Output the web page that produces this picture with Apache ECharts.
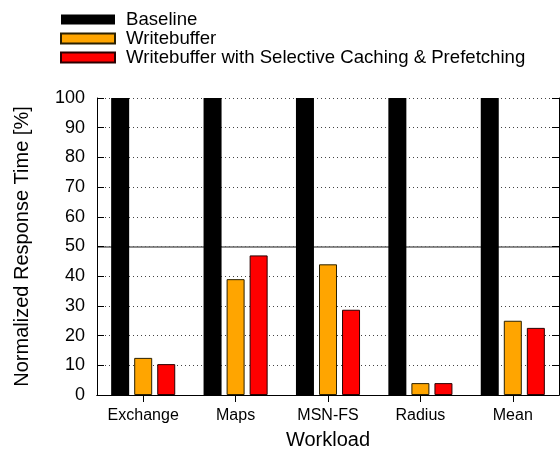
<!DOCTYPE html>
<html>
<head>
<meta charset="utf-8">
<script src="https://cdn.jsdelivr.net/npm/echarts@6/dist/echarts.min.js"></script>
<style>
  html, body { margin: 0; padding: 0; background: #fff; }
  #chart { width: 560px; height: 449px; }
</style>
</head>
<body>
<div id="chart"></div>
<script>
// Workloads on the x axis
const workloads = ['Exchange', 'Maps', 'MSN-FS', 'Radius', 'Mean'];
// Normalized response time [%] per configuration
const baseline = [100, 100, 100, 100, 100];
const writebuffer = [12.5, 39, 44, 4, 25];
const writebufferSCP = [10.4, 47, 28.7, 4, 22.6];
const seriesNames = ['Baseline', 'Writebuffer', 'Writebuffer with Selective Caching & Prefetching'];
const yTicks = [0, 10, 20, 30, 40, 50, 60, 70, 80, 90, 100];

const FONT = '"Liberation Sans", Arial, sans-serif';
const chart = echarts.init(document.getElementById('chart'), null, { renderer: 'canvas' });

// solid line only at 50 on the right-hand axis
const midLineColors = yTicks.map(v => v === 50 ? '#666' : 'rgba(0,0,0,0)');

const barStyle = (color, border) => ({
  color: color,
  borderColor: border,
  borderWidth: border ? 1 : 0
});

chart.setOption({
  animation: false,
  backgroundColor: '#fff',
  textStyle: { fontFamily: FONT, color: '#000' },
  legend: {
    orient: 'vertical',
    left: 60,
    top: 10,
    padding: 0,
    itemWidth: 54,
    itemHeight: 10,
    itemGap: 0,
    icon: 'rect',
    selectedMode: false,
    textStyle: { fontFamily: FONT, fontSize: 18.6, color: '#000', padding: [0, 0, 0, 6] },
    data: seriesNames
  },
  grid: { left: 97, top: 98, right: 1, bottom: 54, containLabel: false, outerBoundsMode: 'none' },
  xAxis: [
    {
      type: 'category',
      data: workloads,
      position: 'bottom',
      name: 'Workload',
      nameLocation: 'middle',
      nameGap: 35,
      nameTextStyle: { fontFamily: FONT, fontSize: 20, color: '#000' },
      axisLine: { show: true, lineStyle: { color: '#000', width: 1 } },
      axisTick: { show: false },
      axisLabel: { interval: 0, fontFamily: FONT, fontSize: 16, color: '#000', margin: 13 },
      splitLine: { show: false }
    },
    {
      type: 'category',
      data: workloads,
      position: 'top',
      axisLine: { show: true, lineStyle: { color: '#000', width: 1 } },
      axisTick: { show: true, interval: 0, inside: true, alignWithLabel: true, length: 7, lineStyle: { color: '#000' } },
      axisLabel: { show: false },
      splitLine: { show: false }
    }
  ],
  yAxis: [
    {
      type: 'value',
      min: 0,
      max: 100,
      interval: 10,
      position: 'left',
      name: 'Normalized Response Time [%]',
      nameLocation: 'middle',
      nameGap: 65,
      nameTextStyle: { fontFamily: FONT, fontSize: 20, color: '#000' },
      axisLine: { show: true, lineStyle: { color: '#000', width: 1 } },
      axisTick: { show: true, inside: true, length: 7, lineStyle: { color: '#000' } },
      axisLabel: { fontFamily: FONT, fontSize: 18, color: '#000', margin: 12 },
      splitLine: { show: true, lineStyle: { color: '#444', type: [1, 3], width: 1 } }
    },
    {
      type: 'value',
      min: 0,
      max: 100,
      interval: 10,
      position: 'right',
      axisLine: { show: true, lineStyle: { color: '#000', width: 1 } },
      axisTick: { show: true, inside: true, length: 7, lineStyle: { color: '#000' } },
      axisLabel: { show: false },
      splitLine: { show: true, lineStyle: { color: midLineColors, type: 'solid', width: 1.5 } }
    }
  ],
  series: [
    {
      name: seriesNames[0],
      type: 'bar',
      data: baseline,
      barWidth: 18,
      barGap: '28%',
      itemStyle: barStyle('#000000', null)
    },
    {
      name: seriesNames[1],
      type: 'bar',
      data: writebuffer,
      barWidth: 18,
      barGap: '28%',
      itemStyle: barStyle('#FFA500', '#2a2000')
    },
    {
      name: seriesNames[2],
      type: 'bar',
      data: writebufferSCP,
      barWidth: 18,
      barGap: '28%',
      itemStyle: barStyle('#FF0000', '#2a0000')
    }
  ]
});
</script>
</body>
</html>
